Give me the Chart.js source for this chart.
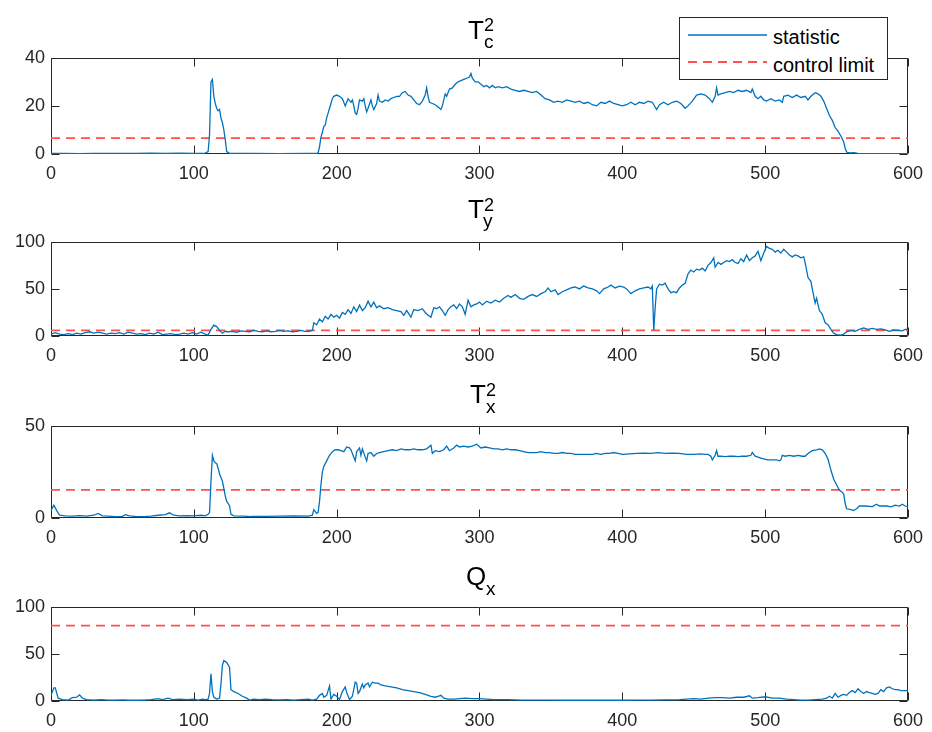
<!DOCTYPE html>
<html><head><meta charset="utf-8">
<script src="https://cdn.jsdelivr.net/npm/chart.js@4/dist/chart.umd.min.js"></script>
<style>
html,body{margin:0;padding:0;background:#fff}
body{width:932px;height:732px;position:relative;overflow:hidden;font-family:"Liberation Sans",Arial,sans-serif;color:#000}
canvas{position:absolute;left:0}
.t{position:absolute;line-height:1;white-space:nowrap;color:#000}
#legend{position:absolute;left:679px;top:17px;width:207px;height:61px;border:1px solid #262626;background:#fff}
</style></head><body>
<canvas id="c1"></canvas><canvas id="c2"></canvas><canvas id="c3"></canvas><canvas id="c4"></canvas>

<span class="t" style="left:468px;top:17px;font-size:26px">T</span>
<span class="t" style="left:484px;top:16px;font-size:18px">2</span>
<span class="t" style="left:484px;top:32px;font-size:19px">c</span>

<span class="t" style="left:468px;top:196px;font-size:26px">T</span>
<span class="t" style="left:484px;top:196px;font-size:18px">2</span>
<span class="t" style="left:483px;top:211px;font-size:19px">y</span>

<span class="t" style="left:470px;top:381px;font-size:26px">T</span>
<span class="t" style="left:486px;top:381px;font-size:18px">2</span>
<span class="t" style="left:486px;top:397px;font-size:19px">x</span>

<span class="t" style="left:466px;top:563px;font-size:26px">Q</span>
<span class="t" style="left:486px;top:579px;font-size:19px">x</span>

<div id="legend"></div>
<svg style="position:absolute;left:0;top:0" width="932" height="100">
  <line x1="688" y1="35" x2="767" y2="35" stroke="#0072BD" stroke-width="1.4"/>
  <line x1="688" y1="62" x2="767" y2="62" stroke="#ff5050" stroke-width="1.8" stroke-dasharray="9,6"/>
</svg>
<span class="t" style="left:773px;top:27px;font-size:20px">statistic</span>
<span class="t" style="left:773px;top:55px;font-size:20px">control limit</span>

<script>
// ---------- data ----------
const xTicks = [0, 100, 200, 300, 400, 500, 600];
const seriesLabels = ['statistic', 'control limit'];

const tcLimit = 6.6;
const tyLimit = 6.0;
const txLimit = 15.2;
const qxLimit = 80;

const tcYTicks = [0, 20, 40];
const tyYTicks = [0, 50, 100];
const txYTicks = [0, 50];
const qxYTicks = [0, 50, 100];

const tcPoints = [[0,0.2],[10,0.2],[20,0.1],[30,0.2],[40,0.2],[50,0.3],[60,0.2],[70,0.4],[80,0.3],[90,0.4],[100,0.3],[108,0.4],[110,1.0],[111,8],[112,30],[113,31],[114,24],[115,21],[116,19],[117,18],[118,18.5],[119,15],[120,13],[121,10],[122,6],[123,1],[125,0.3],[140,0.2],[160,0.1],[180,0.2],[186,0.2],[187,0.5],[188,3],[189,7],[190,9],[191,11.5],[192,12],[193,15],[194,17],[195,19],[196,21],[197,23],[198,24],[200,24.5],[202,24],[204,23],[206,20],[208,23],[210,21.5],[211,22.5],[212,20],[213,17],[214,16.5],[215,19],[216,22.5],[218,22],[219,23],[220,20],[221,17.5],[222,19],[224,22.5],[225,20],[226,18.5],[228,21],[229,24.5],[230,22],[232,21.5],[234,22.5],[236,22],[238,23],[240,23.5],[242,24],[244,24],[246,25.5],[248,26],[250,24.5],[252,24],[254,22.5],[256,21],[258,20.5],[260,22],[262,24.5],[263,27.5],[264,24],[265,21.5],[267,21],[269,20.5],[271,19.5],[273,18.5],[274,20],[276,25],[277,24],[279,27],[281,27.5],[283,29],[285,30],[287,30.5],[289,31],[291,31.5],[293,32],[294,33.5],[295,31.5],[297,30],[299,30],[301,29],[303,28],[305,28.5],[307,27.5],[309,28.5],[311,27.5],[313,28],[316,27.5],[319,28],[322,27],[325,26.5],[328,26],[331,26.5],[334,26],[337,25.5],[340,26],[343,24.5],[346,23],[349,22.5],[352,21.5],[355,22],[358,21.5],[361,22.5],[364,22],[367,21.5],[370,22],[373,21],[376,21.5],[379,20.5],[382,20],[385,21.5],[388,21],[391,22],[394,21],[397,20.5],[400,20],[403,20.5],[406,21.5],[409,20.5],[412,21.5],[415,21],[418,22],[421,21.5],[424,18.5],[426,20.5],[429,21.5],[432,20.5],[435,21.5],[438,22],[441,21],[444,19],[446,20],[449,22],[452,24.5],[455,25],[458,24.5],[461,23],[463,21.5],[465,24],[466,27.5],[467,24.5],[469,25],[472,25.5],[475,26],[478,25.5],[481,26.5],[484,26],[487,26.5],[490,25.5],[491,27],[493,24],[495,23],[497,24],[499,22.5],[501,22],[504,23],[507,22],[510,22.5],[512,21.5],[513,24],[516,24.5],[519,23.5],[522,24.5],[525,23.5],[528,24],[530,22.5],[532,24],[535,25.5],[537,25],[539,24],[541,22],[543,19],[545,16],[547,14],[549,11],[551,9.5],[553,7.5],[555,5],[556,2.5],[557,0.8],[559,0.5],[562,0.6],[565,0.3],[580,0.1],[600,0.1]];

const tyPoints = [[0,2],[3,3.5],[6,2],[9,1.5],[12,2.5],[15,1.5],[18,3],[21,2],[24,3.5],[27,4.5],[30,3],[33,4],[36,3],[39,2],[42,3],[45,2.5],[48,3.5],[51,2],[54,4],[57,3],[60,2],[63,2.5],[66,1.5],[69,3],[72,2],[75,4],[78,1.5],[81,2],[84,2.5],[87,1.5],[90,2],[93,3],[96,2],[99,3.5],[102,2],[105,4],[108,2],[110,1],[112,7],[114,11.5],[116,10],[118,6],[120,3],[122,5],[124,4.5],[127,5],[130,4],[133,5.5],[136,5],[139,4.5],[142,6],[145,5],[148,4.5],[151,5.5],[154,4.5],[157,5],[160,6],[163,5],[166,5.5],[169,4.5],[172,5],[175,6],[178,5],[181,5],[183,6],[184,14],[186,12],[188,18],[190,15],[192,21],[194,18],[196,23],[198,20],[200,22],[202,19],[204,25],[206,23],[208,28],[210,24],[212,31],[214,26],[216,33],[218,27],[220,30],[222,37],[224,31],[226,36],[228,30],[230,32],[233,29],[236,30],[239,28],[242,27],[245,26],[247,22],[249,27],[252,20],[254,28],[257,27],[260,29],[262,25],[264,22],[266,20],[268,30],[270,29],[272,31],[274,27],[276,22],[278,28],[280,31],[282,33],[284,29],[286,34],[288,31],[290,23],[292,38],[294,31],[296,33],[298,34],[300,36],[302,33],[305,37],[308,35],[311,38],[314,36],[317,40],[320,43],[322,41],[325,44],[328,40],[331,39],[334,42],[337,44],[340,42],[343,45],[346,47],[348,51],[350,47],[353,49],[355,44],[358,47],[361,49],[364,51],[367,52],[370,50],[373,53],[376,51],[379,50],[382,48],[384,45],[387,50],[390,52],[392,54],[395,51],[398,53],[401,52],[403,50],[406,45],[409,48],[412,50],[415,51],[418,52],[420,50],[421,53],[422,6],[423,30],[424,50],[426,55],[428,54],[430,56],[432,50],[434,46],[436,47],[438,46],[440,51],[442,54],[444,56],[446,66],[448,70],[450,68],[452,71],[454,70],[456,72],[458,69],[460,75],[462,78],[464,83],[465,73],[467,78],[469,76],[471,78],[473,80],[475,79],[477,81],[479,78],[481,77],[483,82],[485,79],[487,86],[489,80],[491,83],[493,85],[495,90],[497,80],[499,88],[501,95],[503,93],[505,92],[507,89],[509,91],[511,88],[513,92],[515,89],[517,86],[519,84],[521,86],[523,85],[525,83],[527,84],[528,78],[530,62],[532,58],[533,50],[535,35],[536,40],[538,27],[540,23],[542,14],[544,12],[546,7],[548,3],[550,1.5],[553,1],[555,2],[557,4.5],[560,6],[563,5],[566,7],[569,8.5],[572,7],[575,8],[578,7],[581,7.5],[584,6.5],[587,5],[590,6.5],[593,6],[596,5.5],[598,7],[600,7]];

const txPoints = [[0,4],[2,7],[4,4],[6,1.5],[10,1.2],[15,1.0],[20,1.3],[25,1.0],[30,1.5],[33,2.5],[36,1.2],[40,1.0],[45,0.8],[50,0.9],[52,1.8],[55,1.2],[60,0.8],[65,0.7],[70,1.0],[75,1.5],[80,1.8],[83,2.8],[86,1.5],[90,1.2],[95,1.3],[100,1.1],[105,1.5],[108,1.2],[110,2],[111,3],[112,20],[113,34],[114,31],[115,30],[116,29.5],[117,27],[118,24],[119,22],[120,20],[121,16],[122,12],[123,9],[124,8],[125,6.5],[126,2],[128,1.2],[135,1.0],[140,0.8],[150,0.9],[160,1.0],[170,1.1],[180,1.0],[183,1.5],[184,4.5],[186,2.5],[187,3],[188,9],[189,18],[190,25],[191,28],[193,31],[195,34],[197,36],[199,37],[201,37],[203,36.5],[205,36],[207,38.5],[209,38],[210,37],[212,33],[213,31],[214,36],[216,38],[217,34],[218,37.5],[220,33],[221,31],[222,35],[224,35.5],[226,33.5],[228,35],[230,35.5],[233,36],[236,36.5],[239,37],[242,36.5],[245,37.5],[248,37],[251,37],[254,37.5],[257,37],[260,37],[263,37.5],[266,39.5],[267,35],[269,36.5],[272,36],[275,37],[277,39],[279,36.5],[282,38],[284,39.5],[286,38.5],[289,39],[292,38.5],[295,39],[298,40],[301,38],[304,38.5],[307,38],[310,37.5],[313,37.5],[316,37],[319,37.5],[322,37],[325,37],[328,36.5],[331,36],[334,35.5],[337,35.5],[340,35.5],[343,36],[346,35.5],[349,35.5],[352,35],[355,35],[358,35.5],[361,35],[364,35],[367,34.5],[370,34.5],[373,34.5],[376,34.5],[379,34.5],[382,35],[385,34.5],[388,35],[391,35],[394,35.5],[397,35],[400,34.5],[405,34.8],[410,35],[415,35.2],[420,35],[425,35.5],[430,35],[435,35.2],[440,35],[445,34.5],[450,34.5],[455,34.8],[458,34.5],[460,34.5],[462,33.5],[463,31.5],[465,34],[466,36.5],[467,33.5],[469,33.5],[472,33.3],[475,33.5],[478,33.5],[481,33.3],[484,33.5],[487,33.5],[490,34],[491,35.5],[493,33.5],[495,33],[497,32.5],[499,32],[502,31.5],[505,31.5],[508,31.5],[510,31],[511,31.5],[512,34],[514,33.5],[517,34],[520,33.5],[523,34],[526,33.5],[528,33.5],[530,35],[533,36.5],[536,37],[538,37.5],[540,37],[542,35],[544,32],[546,26],[548,21],[550,18],[552,15],[554,14],[555,13],[556,8],[557,5],[560,4.5],[562,4],[564,5],[566,6.5],[570,6.5],[575,6.2],[578,7.5],[580,6.5],[585,6.5],[588,6],[591,7],[594,6.5],[596,7.5],[598,6.5],[600,6]];

const qxPoints = [[0,6],[2,14],[3,14],[5,3],[8,1.5],[12,1],[15,3.5],[18,4],[20,6.5],[22,3],[25,1.5],[30,1],[35,1.5],[40,1],[45,1],[50,1.2],[55,0.8],[60,0.8],[65,1],[70,1.5],[75,2.5],[78,1.5],[82,3],[85,1.5],[90,2],[95,1.5],[100,2],[103,1],[106,2],[108,1.5],[110,2],[111,8],[112,29],[113,10],[114,4],[116,2],[118,3],[119,18],[120,38],[121,43],[123,41],[125,36],[126,12],[128,10],[131,8],[134,5],[137,3],[139,1],[142,2],[146,1.5],[150,2],[155,1.5],[160,1.2],[165,1.5],[170,1],[175,1.5],[180,2],[183,1],[186,2],[188,6],[190,8],[191,4],[193,6],[195,16],[196,2],[198,7],[200,5],[202,1.5],[204,10],[206,15],[207,9],[209,1.5],[211,5],[213,20],[214,19],[215,8],[216,10],[218,18],[219,14],[220,17],[222,19],[223,15],[225,20],[227,19],[229,19],[231,17],[234,16],[238,15],[242,14],[246,12],[250,11],[254,10],[258,9],[262,7],[266,5],[269,4],[271,5],[273,6],[275,3],[278,2],[282,2],[286,2.5],[290,3],[295,2.5],[300,2.5],[305,2],[310,1.5],[320,1.5],[330,1],[340,1],[350,1],[360,0.8],[370,1],[380,0.8],[390,0.8],[400,0.8],[410,1],[420,1],[430,1.2],[440,1.5],[450,2.5],[455,2],[460,3],[465,3.5],[470,3.5],[475,3],[480,4],[485,4],[489,5.5],[491,3],[495,3.5],[500,4.5],[505,3],[510,3],[515,2],[520,1.5],[525,1],[530,1],[535,1.5],[540,2],[543,3],[545,5],[547,3],[549,8],[551,4],[553,6],[555,7],[557,6],[559,9],[561,11],[563,9],[565,13],[567,10],[569,8],[571,10],[573,9],[575,8],[577,7],[579,8],[581,12],[583,10],[585,14],[587,15],[589,13],[591,12],[593,12],[595,11],[597,11],[600,11]];

// ---------- drawing ----------
const AX = '#262626';
const FONT = {family: '"Liberation Sans", Arial, sans-serif', size: 18};

const boxTicks = {
  id: 'boxTicks',
  beforeDatasetsDraw(chart) {
    const {ctx, chartArea: a, scales: {x, y}} = chart;
    const L = Math.round(a.left) + 0.5, R = Math.round(a.right) - 0.5;
    const T = Math.round(a.top) + 0.5, B = Math.round(a.bottom) - 0.5;
    const len = 8;
    ctx.save();
    ctx.strokeStyle = AX; ctx.lineWidth = 1;
    ctx.beginPath();
    ctx.rect(L, T, R - L, B - T);
    x.ticks.forEach(t => {
      const px = Math.round(x.getPixelForValue(t.value)) + 0.5;
      ctx.moveTo(px, B); ctx.lineTo(px, B - len);
      ctx.moveTo(px, T); ctx.lineTo(px, T + len);
    });
    y.ticks.forEach(t => {
      const py = Math.round(y.getPixelForValue(t.value)) + 0.5;
      ctx.moveTo(L, py); ctx.lineTo(L + len, py);
      ctx.moveTo(R, py); ctx.lineTo(R - len, py);
    });
    ctx.stroke();
    ctx.restore();
  }
};

function makePanel(id, plotTop, plotBottom, points, limit, yTicks) {
  const padTop = 12, axisH = 31;
  const cv = document.getElementById(id);
  const h = (plotBottom - plotTop) + padTop + axisH;
  cv.width = 932; cv.height = h;
  cv.style.top = (plotTop - padTop) + 'px';
  cv.style.width = '932px'; cv.style.height = h + 'px';
  const yMax = yTicks[yTicks.length - 1];
  new Chart(cv, {
    type: 'line',
    data: {
      datasets: [
        {label: seriesLabels[0], data: points.map(p => ({x: p[0], y: p[1]})),
         borderColor: '#0072BD', borderWidth: 1.3, pointRadius: 0, tension: 0, fill: false},
        {label: seriesLabels[1], data: [{x: xTicks[0], y: limit}, {x: xTicks[xTicks.length - 1], y: limit}],
         borderColor: '#ff5050', borderWidth: 1.8, borderDash: [9, 6], pointRadius: 0, fill: false}
      ]
    },
    options: {
      responsive: false, animation: false, devicePixelRatio: 1,
      layout: {padding: {top: padTop, right: 21, left: 0, bottom: 0}},
      plugins: {legend: {display: false}, title: {display: false}, tooltip: {enabled: false}},
      scales: {
        x: {
          type: 'linear', min: xTicks[0], max: xTicks[xTicks.length - 1],
          grid: {display: false, drawTicks: false}, border: {display: false},
          afterBuildTicks: s => { s.ticks = xTicks.map(v => ({value: v})); },
          afterFit: s => { s.height = axisH; },
          ticks: {autoSkip: false, maxRotation: 0, color: AX, font: FONT, padding: 9}
        },
        y: {
          type: 'linear', min: yTicks[0], max: yMax,
          grid: {display: false, drawTicks: false}, border: {display: false},
          afterBuildTicks: s => { s.ticks = yTicks.map(v => ({value: v})); },
          afterFit: s => { s.width = 51; },
          ticks: {autoSkip: false, color: AX, font: FONT, padding: 6}
        }
      }
    },
    plugins: [boxTicks]
  });
}

makePanel('c1', 53, 154, tcPoints, tcLimit, tcYTicks);
makePanel('c2', 237, 336, tyPoints, tyLimit, tyYTicks);
makePanel('c3', 421, 518, txPoints, txLimit, txYTicks);
makePanel('c4', 602, 701, qxPoints, qxLimit, qxYTicks);
</script>
</body></html>
